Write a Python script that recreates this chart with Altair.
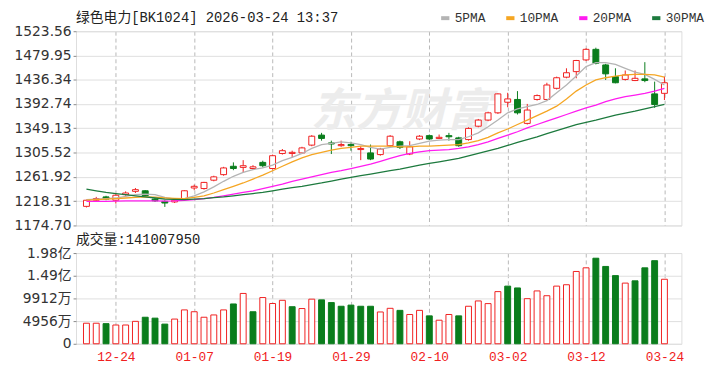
import altair as alt
import pandas as pd

# ---------------- data ----------------
dates = ["12-19", "12-22", "12-23", "12-24", "12-25", "12-26", "12-29", "12-30", "12-31",
         "01-05", "01-06", "01-07", "01-08", "01-09", "01-12", "01-13", "01-14", "01-15", "01-16",
         "01-19", "01-20", "01-21", "01-22", "01-23", "01-26", "01-27", "01-28", "01-29", "01-30",
         "02-02", "02-03", "02-04", "02-05", "02-06", "02-09", "02-10", "02-11", "02-12", "02-13",
         "02-24", "02-25", "02-26", "02-27",
         "03-02", "03-03", "03-04", "03-05", "03-06", "03-09", "03-10", "03-11", "03-12", "03-13",
         "03-16", "03-17", "03-18", "03-19", "03-20", "03-23", "03-24"]

opens = [1209, 1220, 1226, 1220, 1230, 1236, 1237, 1222, 1218, 1217,
         1222, 1242, 1241, 1256, 1266, 1281, 1279, 1277, 1288, 1277,
         1304, 1304, 1305, 1319, 1337, 1323, 1318, 1320, 1311, 1305,
         1302, 1318, 1325, 1303, 1330, 1336, 1331, 1336, 1332, 1329,
         1353, 1364, 1377, 1396, 1401, 1358, 1401, 1401, 1421, 1441,
         1451, 1472, 1491, 1463, 1442, 1437, 1435, 1438, 1411, 1412]
closes = [1220, 1223, 1222, 1229, 1233, 1239, 1228, 1219, 1215, 1220,
          1237, 1245, 1252, 1262, 1278, 1277, 1282, 1280, 1282, 1300,
          1309, 1306, 1314, 1335, 1331, 1321, 1320, 1318, 1313, 1294,
          1312, 1335, 1315, 1316, 1335, 1330, 1333, 1334, 1318, 1349,
          1364, 1377, 1411, 1402, 1377, 1382, 1408, 1427, 1440, 1449,
          1471, 1491, 1466, 1447, 1431, 1445, 1439, 1435, 1392, 1431]
highs = [1221, 1226, 1228, 1231, 1236, 1242, 1238, 1224, 1220, 1221,
         1238, 1248, 1253, 1264, 1280, 1288, 1292, 1283, 1291, 1302,
         1312, 1309, 1316, 1337, 1341, 1327, 1327, 1325, 1317, 1320,
         1314, 1337, 1327, 1326, 1337, 1338, 1338, 1341, 1334, 1351,
         1366, 1379, 1412, 1413, 1416, 1393, 1410, 1431, 1442, 1457,
         1472, 1493, 1494, 1465, 1457, 1453, 1453, 1468, 1433, 1442]
lows = [1207, 1218, 1220, 1214, 1228, 1233, 1227, 1217, 1208, 1215,
        1221, 1238, 1239, 1254, 1264, 1274, 1269, 1275, 1279, 1275,
        1302, 1297, 1303, 1317, 1327, 1303, 1316, 1309, 1292, 1292,
        1300, 1316, 1312, 1301, 1328, 1328, 1330, 1327, 1316, 1327,
        1351, 1362, 1375, 1387, 1374, 1356, 1399, 1399, 1419, 1439,
        1439, 1470, 1464, 1436, 1430, 1435, 1434, 1432, 1386, 1400]

ma5 = [1221, 1222, 1223, 1224, 1227, 1230, 1231, 1230, 1225, 1222,
       1223, 1228, 1235, 1244, 1254, 1263, 1270, 1275, 1278, 1283,
       1291, 1297, 1304, 1313, 1320, 1322, 1325, 1323, 1320, 1315,
       1312, 1315, 1317, 1318, 1322, 1326, 1328, 1329, 1329, 1334,
       1341, 1352, 1364, 1377, 1384, 1388, 1392, 1399, 1413, 1427,
       1443, 1460, 1467, 1467, 1464, 1457, 1450, 1446, 1437, 1427]
ma10 = [1220, 1221, 1222, 1223, 1224, 1225, 1226, 1225.5, 1224, 1223.5,
        1223, 1225, 1228, 1233, 1239, 1245, 1251, 1258, 1265, 1273,
        1281, 1289, 1296, 1302, 1306, 1310, 1313, 1315, 1317, 1317,
        1317, 1317, 1316, 1316, 1317, 1317, 1318, 1319, 1320, 1323,
        1327, 1333, 1341, 1348, 1356, 1364, 1372, 1380, 1389, 1402,
        1416, 1427, 1436, 1440, 1443, 1445, 1446, 1446, 1445, 1441]
ma20 = [1218, 1218, 1218, 1218.5, 1219, 1219, 1219, 1219, 1218.5, 1219,
        1220, 1221, 1223, 1225, 1228, 1231, 1234, 1237, 1241, 1245,
        1249, 1254, 1258, 1262, 1266, 1270, 1273, 1277, 1281, 1285,
        1290, 1295, 1300, 1304, 1307, 1309, 1310, 1311, 1313, 1316,
        1320, 1325, 1331, 1337, 1343, 1350, 1356, 1362, 1368, 1374,
        1380, 1386, 1391, 1397, 1402, 1406, 1409, 1412, 1416, 1421]
ma30 = [1240, 1237, 1234, 1232, 1230, 1228, 1226, 1224, 1222, 1221.5,
        1221, 1222, 1223, 1224.5, 1226, 1228, 1230, 1232, 1234, 1237,
        1240, 1242.5, 1245, 1248, 1251, 1254.5, 1258, 1261, 1264, 1267,
        1270, 1273, 1276, 1279.5, 1283, 1286, 1289, 1292, 1295, 1299.5,
        1304, 1308.5, 1313, 1318.5, 1324, 1329, 1334, 1339.5, 1345, 1350.5,
        1356, 1360, 1364, 1368.5, 1373, 1376.5, 1380, 1384, 1388, 1392]

# volume in units of 万 (10,000 shares)
volumes_wan = [4490, 4490, 4400, 4100, 4100, 4900, 5800, 5600, 4300, 5400,
               7400, 7000, 5800, 6300, 7400, 8700, 11000, 7000, 10100, 8800,
               9500, 8100, 7700, 9750, 9600, 9000, 8200, 8450, 8200, 8200,
               6950, 7750, 7300, 6400, 7300, 6100, 5150, 6400, 6100, 8200,
               9360, 8780, 11400, 12600, 12200, 9860, 11550, 10500, 12600, 12900,
               15800, 16600, 18700, 16900, 14900, 13260, 13760, 16600, 18160, 14100.8]
volume_up = [True, True, False, True, True, True, False, False, False, True,
             True, True, True, True, True, False, True, False, True, True,
             True, False, True, True, False, False, False, False, False, False,
             True, True, False, True, True, False, True, True, False, True,
             True, True, True, False, False, True, True, True, True, True,
             True, True, False, False, False, True, False, False, False, True]

label_dates = ["12-24", "01-07", "01-19", "01-29", "02-10", "03-02", "03-12", "03-24"]
price_ticks = [1174.70, 1218.31, 1261.92, 1305.52, 1349.13, 1392.74, 1436.34, 1479.95, 1523.56]
volume_ticks_wan = [0, 4956, 9912, 14868, 19824]
ma_names = ["5PMA", "10PMA", "20PMA", "30PMA"]
title_text = "绿色电力[BK1024] 2026-03-24 13:37"
last_volume = 141007950
watermark = "东方财富"

# ---------------- styles ----------------
RED = "#f02020"
GREEN = "#0a7d1c"
MA_COLORS = ["#b4b4b4", "#f5a623", "#ff1cf0", "#1d7a3e"]
MONO = "Liberation Mono, Noto Sans CJK SC"
SANS = "DejaVu Sans, Noto Sans CJK SC"
GRID_H = "#dedede"
GRID_V = "#b8b8b8"

n = len(dates)
kdf = pd.DataFrame({"i": list(range(n)), "date": dates, "o": opens, "h": highs,
                    "l": lows, "c": closes})
madf = pd.DataFrame({
    "i": list(range(n)) * 4,
    "series": [nm for nm in ma_names for _ in range(n)],
    "v": ma5 + ma10 + ma20 + ma30,
})
vdf = pd.DataFrame({"i": list(range(n)), "v": volumes_wan, "up": volume_up})

label_idx = [dates.index(d) for d in label_dates]
date_expr = "[" + ",".join("'" + d + "'" for d in dates) + "][datum.value]"
xscale = alt.Scale(domain=[-0.56, 60.23], nice=False, zero=False)

x_top = alt.X("i:Q", scale=xscale, title=None,
              axis=alt.Axis(values=label_idx, labels=False, ticks=False, domain=False,
                            grid=True, gridDash=[4, 3], gridColor=GRID_V))
pscale = alt.Scale(domain=[1174.70, 1523.56], nice=False, zero=False)
p_axis = alt.Axis(values=price_ticks, format=".2f", grid=True, gridColor=GRID_H,
                  domain=False, tickSize=3, tickColor="#888", labelPadding=2,
                  labelFont=SANS, labelFontSize=14, labelColor="#333")

up_cond = "datum.c >= datum.o"

wm = alt.Chart(pd.DataFrame({"t": [watermark]})).mark_text(
    font="Noto Sans CJK SC", fontSize=46, fontWeight="bold", fontStyle="italic",
    color="#ececec", align="center", baseline="middle"
).encode(text="t:N", x=alt.value(330), y=alt.value(82))

wick = alt.Chart(kdf).mark_rule(strokeWidth=1).encode(
    x=x_top,
    y=alt.Y("l:Q", scale=pscale, axis=p_axis, title=None),
    y2="h:Q",
    stroke=alt.condition(up_cond, alt.value(RED), alt.value(GREEN)),
)
body = alt.Chart(kdf).mark_bar(size=6, strokeWidth=1).encode(
    x=x_top,
    y=alt.Y("o:Q", scale=pscale, axis=p_axis, title=None),
    y2="c:Q",
    fill=alt.condition(up_cond, alt.value("#ffffff"), alt.value(GREEN)),
    stroke=alt.condition(up_cond, alt.value(RED), alt.value(GREEN)),
)
lines = alt.Chart(madf).mark_line(strokeWidth=1.3).encode(
    x=x_top,
    y=alt.Y("v:Q", scale=pscale, axis=p_axis, title=None),
    color=alt.Color("series:N", scale=alt.Scale(domain=ma_names, range=MA_COLORS),
                    legend=alt.Legend(title=None, orient="none", legendX=368, legendY=-20,
                                      direction="horizontal", symbolType="stroke",
                                      symbolStrokeWidth=4, symbolSize=70,
                                      labelFont=MONO, labelFontSize=13, labelColor="#333",
                                      columnPadding=12, labelOffset=3, padding=0)),
)
title_layer = alt.Chart(pd.DataFrame({"t": [title_text]})).mark_text(
    align="left", baseline="middle", font=MONO, fontSize=14, color="#222"
).encode(text="t:N", x=alt.value(0), y=alt.value(-13))

upper = alt.layer(wm, wick, body, lines, title_layer).properties(width=614, height=197)

x_bot = alt.X("i:Q", scale=xscale, title=None,
              axis=alt.Axis(values=label_idx, labelExpr=date_expr, ticks=False, domain=False,
                            grid=True, gridDash=[4, 3], gridColor=GRID_V, labelFlush=False,
                            labelFont=MONO, labelFontSize=13, labelColor=RED, labelPadding=7))
vol_expr = ("datum.value >= 10000 ? format(datum.value / 10000, '.2f') + '亿' : "
            "(datum.value == 0 ? '0' : format(datum.value, 'd') + '万')")
vbar = alt.Chart(vdf).mark_bar(size=6, strokeWidth=1).encode(
    x=x_bot,
    y=alt.Y("v:Q", scale=alt.Scale(domain=[0, 19824], nice=False), title=None,
            axis=alt.Axis(values=volume_ticks_wan, labelExpr=vol_expr, grid=True,
                          gridColor=GRID_H, domain=False, tickSize=3, tickColor="#888",
                          labelPadding=2, labelFont=SANS, labelFontSize=14, labelColor="#333")),
    fill=alt.condition("datum.up", alt.value("#ffffff"), alt.value(GREEN)),
    stroke=alt.condition("datum.up", alt.value(RED), alt.value(GREEN)),
)
vtitle = alt.Chart(pd.DataFrame({"t": ["成交量:" + str(last_volume)]})).mark_text(
    align="left", baseline="middle", font=MONO, fontSize=14, color="#222"
).encode(text="t:N", x=alt.value(0), y=alt.value(-13))

lower = alt.layer(vbar, vtitle).properties(width=614, height=92)

chart = alt.vconcat(upper, lower, spacing=28, bounds="flush").properties(
    padding={"left": 5, "top": 0, "right": 5, "bottom": 0}
).configure_view(stroke="#a0a0a0", strokeWidth=1).configure(background="white")

chart.save("out.html", embed_options={"renderer": "svg", "actions": False})
